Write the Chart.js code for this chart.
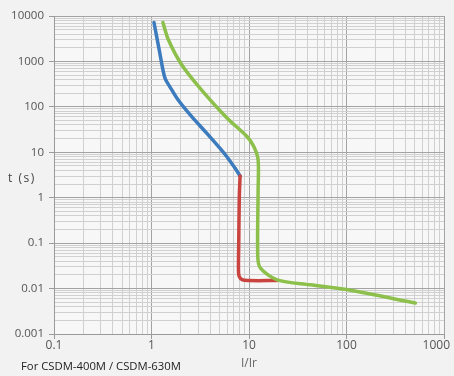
<!DOCTYPE html>
<html>
<head>
<meta charset="utf-8">
<script src="https://cdn.jsdelivr.net/npm/chart.js@4.4.1/dist/chart.umd.min.js"></script>
<style>
  html, body { margin: 0; padding: 0; background: #f2f2f2; }
  #wrap { position: relative; width: 454px; height: 376px; }
  #tripChart { position: absolute; left: 0; top: 0; }
  .lbl { position: absolute; font-family: "Open Sans", sans-serif; white-space: nowrap; }
  #ylab { left: 8px; top: 169px; font-size: 12px; color: #444; letter-spacing: 1.5px; }
  #note { left: 21px; top: 358px; font-size: 11.3px; color: #222; }
</style>
</head>
<body>
<div id="wrap">
  <canvas id="tripChart" width="454" height="376"></canvas>
  <div class="lbl" id="ylab">t (s)</div>
  <div class="lbl" id="note">For CSDM-400M / CSDM-630M</div>
</div>
<script>
// tick labels
const xTickValues = [0.1, 1, 10, 100, 1000];
const xTickLabels = ['0.1', '1', '10', '100', '1000'];
const yTickValues = [0.001, 0.01, 0.1, 1, 10, 100, 1000, 10000];
const yTickLabels = ['0.001', '0.01', '0.1', '1', '10', '100', '1000', '10000'];

// curves (I/Ir, t in s)
const blueX = [1.06, 1.2, 1.37, 1.55, 1.87, 2.6, 3.68, 5.0, 5.9, 7.18, 8.1];
const blueY = [7200, 1800, 437, 273, 143, 60, 26.5, 12.5, 8.1, 4.5, 3.0];
const redX = [8.1, 7.95, 7.85, 7.8, 7.9, 8.6, 10, 19.4];
const redY = [3.0, 1, 0.1, 0.03, 0.019, 0.0155, 0.015, 0.015];
const greenX = [1.31, 1.49, 2.04, 3.14, 5.94, 9.53, 11.2, 12.4, 12.4, 12.3, 13.1, 19.4, 42.6, 100, 508];
const greenY = [7200, 3000, 845, 259, 57, 22.3, 13.4, 6.8, 1.5, 0.0507, 0.0281, 0.0156, 0.0121, 0.0095, 0.0048];

const toPoints = (xs, ys) => xs.map((x, i) => ({ x, y: ys[i] }));

const isDecade = v => Math.abs(Math.log10(v) - Math.round(Math.log10(v))) < 1e-9;

// 1..9 x 10^n between min and max
function logTicks(min, max) {
  const out = [];
  for (let e = Math.round(Math.log10(min)); e < Math.round(Math.log10(max)); e++) {
    for (let m = 1; m < 10; m++) {
      out.push({ value: parseFloat((m * Math.pow(10, e)).toPrecision(12)) });
    }
  }
  out.push({ value: max });
  out.forEach(t => { t.major = isDecade(t.value); });
  return out;
}

const gridColor = ctx => (ctx.tick && isDecade(ctx.tick.value)) ? '#a3a3a3' : '#d0d0d0';
const tickColor = ctx => (ctx.tick && isDecade(ctx.tick.value)) ? '#9a9a9a' : 'rgba(0,0,0,0)';

const plotBg = {
  id: 'plotBg',
  beforeDraw(chart) {
    const { ctx, chartArea: a } = chart;
    ctx.save();
    ctx.fillStyle = '#f7f7f7';
    ctx.fillRect(a.left, a.top, a.right - a.left, a.bottom - a.top);
    ctx.restore();
  }
};

// x tick labels, last one kept inside the canvas
const xLabels = {
  id: 'xLabels',
  afterDraw(chart) {
    const { ctx, chartArea: a, width } = chart;
    const sx = chart.scales.x;
    ctx.save();
    ctx.font = '12px "Open Sans", sans-serif';
    ctx.fillStyle = '#555';
    ctx.textAlign = 'center';
    ctx.textBaseline = 'middle';
    xTickValues.forEach((v, i) => {
      const w = ctx.measureText(xTickLabels[i]).width;
      let px = sx.getPixelForValue(v);
      px = Math.min(px, width - 4 - w / 2);
      ctx.fillText(xTickLabels[i], px, a.bottom + 12);
    });
    ctx.restore();
  }
};

new Chart(document.getElementById('tripChart'), {
  type: 'scatter',
  data: {
    datasets: [
      { label: 'green', data: toPoints(greenX, greenY), borderColor: '#8dc04b', order: 0 },
      { label: 'red', data: toPoints(redX, redY), borderColor: '#c9433f', order: 1 },
      { label: 'blue', data: toPoints(blueX, blueY), borderColor: '#3c7bbd', order: 2 }
    ].map(d => Object.assign(d, {
      showLine: true, pointRadius: 0, borderWidth: 3.5, tension: 0.3,
      borderCapStyle: 'round', borderJoinStyle: 'round'
    }))
  },
  options: {
    responsive: false,
    animation: false,
    layout: { padding: { top: 16, right: 10, left: 0, bottom: 0 } },
    plugins: { legend: { display: false }, tooltip: { enabled: false } },
    scales: {
      x: {
        type: 'logarithmic',
        min: 0.1,
        max: 1000,
        afterBuildTicks: s => { s.ticks = logTicks(0.1, 1000); },
        afterFit: s => { s.height = 42; s.paddingLeft = 0; s.paddingRight = 0; },
        grid: { color: gridColor, tickColor: tickColor, tickLength: 5, lineWidth: 1 },
        border: { color: '#9a9a9a' },
        ticks: { display: false, autoSkip: false },
        title: {
          display: true, text: 'I/Ir', color: '#666',
          font: { family: '"Open Sans", sans-serif', size: 12 },
          padding: { top: 0, bottom: 5 }
        }
      },
      y: {
        type: 'logarithmic',
        min: 0.001,
        max: 10000,
        afterBuildTicks: s => { s.ticks = logTicks(0.001, 10000); },
        afterFit: s => { s.width = 54; },
        grid: { color: gridColor, tickColor: tickColor, tickLength: 5, lineWidth: 1 },
        border: { color: '#9a9a9a' },
        ticks: {
          autoSkip: false,
          padding: 5,
          color: '#555',
          font: { family: '"Open Sans", sans-serif', size: 11.5 },
          callback: v => {
            const i = yTickValues.findIndex(t => Math.abs(t - v) < t * 1e-6);
            return i >= 0 ? yTickLabels[i] : '';
          }
        }
      }
    }
  },
  plugins: [plotBg, xLabels]
});
</script>
</body>
</html>
